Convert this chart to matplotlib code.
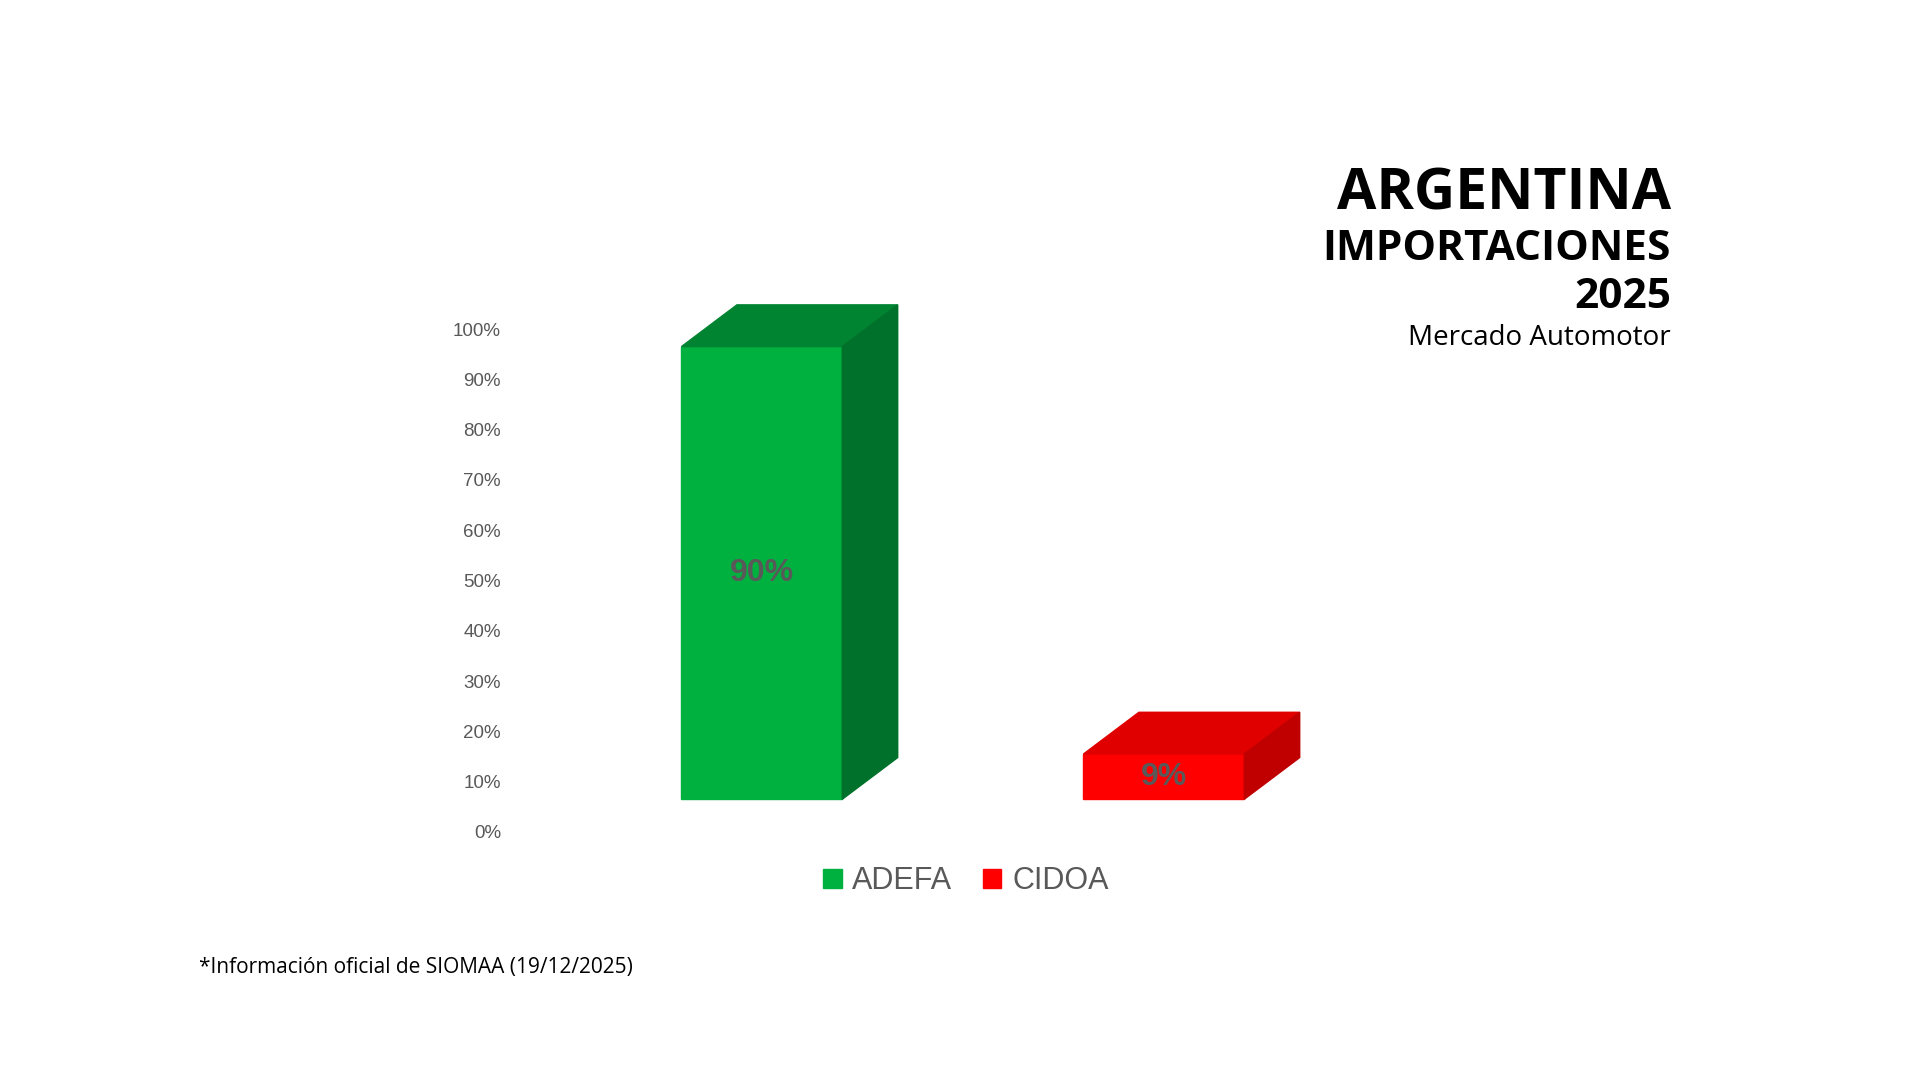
import matplotlib
matplotlib.use("Agg")
import matplotlib.pyplot as plt
from matplotlib.patches import Polygon, Patch

# ── Data ──────────────────────────────────────────────────────────────────────
categories = ["ADEFA", "CIDOA"]
values = [90, 9]
labels = ["90%", "9%"]
front_colors = ["#00b140", "#ff0000"]
top_colors = ["#008431", "#e00000"]
side_colors = ["#00712a", "#c00000"]
yticks = list(range(0, 101, 10))

fig = plt.figure(figsize=(19.2, 10.8), dpi=100)
ax = fig.add_axes([515 / 1920, 1 - 832 / 1080, 804 / 1920, 503 / 1080])
ax.set_xlim(-0.614, 1.386)
ax.set_ylim(0, 100)

base = 6.5     # floor of the pseudo-3D bars
width = 0.4
dx, dy = 0.138, 8.3

for i, (v, lab) in enumerate(zip(values, labels)):
    x0, x1 = i - width / 2, i + width / 2
    top = base + v
    faces = [
        ([(x0, base), (x1, base), (x1, top), (x0, top)], front_colors[i]),
        ([(x0, top), (x1, top), (x1 + dx, top + dy), (x0 + dx, top + dy)], top_colors[i]),
        ([(x1, base), (x1 + dx, base + dy), (x1 + dx, top + dy), (x1, top)], side_colors[i]),
    ]
    for pts, c in faces:
        ax.add_patch(Polygon(pts, color=c, clip_on=False))
    ax.text(i, base + v / 2, lab, ha="center", va="center", fontsize=23, fontweight="bold",
            color="#595959", family="Liberation Sans")

ax.set_xticks([])
ax.set_yticks(yticks)
ax.set_yticklabels([f"{t}%" for t in yticks], fontsize=13.5, color="#595959", family="Liberation Sans")
ax.tick_params(axis="y", length=0, pad=10)
for s in ax.spines.values():
    s.set_visible(False)
ax.patch.set_alpha(0)

handles = [Patch(color=c, label=n) for c, n in zip(front_colors, categories)]
leg = fig.legend(handles=handles, loc="center", bbox_to_anchor=(966 / 1920, 1 - 881 / 1080), ncol=2,
                 frameon=False, handlelength=0.6, handleheight=0.6, handletextpad=0.35, columnspacing=1.0,
                 prop={"family": "Liberation Sans", "size": 22})
for t in leg.get_texts():
    t.set_color("#595959")

# titles
fig.text(1671 / 1920, 1 - 194 / 1080, "ARGENTINA", ha="right", va="center", fontsize=41,
         fontweight="bold", family="Open Sans")
fig.text(1671 / 1920, 1 - 249 / 1080, "IMPORTACIONES", ha="right", va="center", fontsize=30.5,
         fontweight="bold", family="Open Sans")
fig.text(1671 / 1920, 1 - 298 / 1080, "2025", ha="right", va="center", fontsize=30.5,
         fontweight="bold", family="Open Sans")
fig.text(1671 / 1920, 1 - 338 / 1080, "Mercado Automotor", ha="right", va="center", fontsize=20,
         family="Open Sans")
fig.text(199 / 1920, 1 - 968 / 1080, "*Información oficial de SIOMAA (19/12/2025)", ha="left", va="center",
         fontsize=15, family="Open Sans")

fig.savefig("out.png", dpi=100, facecolor="white")
